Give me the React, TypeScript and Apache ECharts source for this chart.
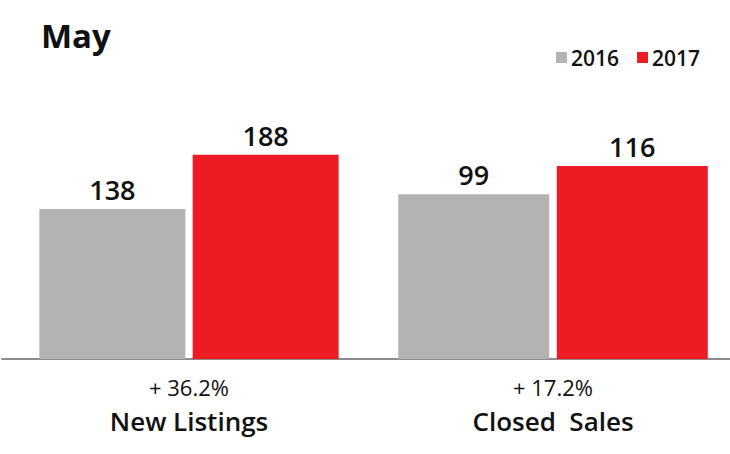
import React, { useEffect, useRef } from "react";
import * as echarts from "echarts";

const title = "May";
const years = ["2016", "2017"];
const categories = ["New Listings", "Closed  Sales"];
const values2016 = [138, 99];
const values2017 = [188, 116];
const changes = ["+ 36.2%", "+ 17.2%"];
const axisMax = [300, 196];

const GRAY = "#b3b3b3";
const RED = "#ed1c24";
const FONT = "'Open Sans', 'Noto Sans', sans-serif";

export default function App() {
  const ref = useRef<HTMLDivElement>(null);
  useEffect(() => {
    document.body.style.margin = "0";
    if (!ref.current) return;
    const chart = echarts.init(ref.current, null, { renderer: "svg" });
    const grids = [
      { left: 2, width: 374, top: 33, bottom: 95 },
      { left: 376, right: 0, top: 33, bottom: 95 },
    ];
    const barWidths = [146, 151];
    const series: any[] = [];
    categories.forEach((_, i) => {
      [values2016, values2017].forEach((vals, j) => {
        series.push({
          type: "bar",
          name: years[j],
          xAxisIndex: i,
          yAxisIndex: i,
          data: [vals[i]],
          barWidth: barWidths[i],
          barGap: "5%",
          itemStyle: { color: j === 0 ? GRAY : RED },
          label: {
            show: true,
            position: "top",
            distance: 6,
            color: "#111",
            fontFamily: FONT,
            fontSize: 27,
            fontWeight: 600,
          },
        });
      });
    });
    chart.setOption({
      animation: false,
      textStyle: { fontFamily: FONT },
      title: {
        text: title,
        left: 36,
        top: 14,
        textStyle: { fontFamily: FONT, fontSize: 33, fontWeight: 700, color: "#111" },
      },
      legend: {
        data: years,
        left: 551,
        top: 42,
        icon: "rect",
        itemWidth: 11,
        itemHeight: 11,
        itemGap: 18,
        textStyle: { fontFamily: FONT, fontSize: 21, fontWeight: 600, color: "#111", padding: [0, 0, 0, -1] },
      },
      grid: grids,
      xAxis: categories.map((c, i) => ({
        type: "category",
        gridIndex: i,
        data: [c],
        axisLine: { show: true, lineStyle: { color: "#8c8c8c", width: 2 } },
        axisTick: { show: false },
        axisLabel: {
          margin: 12,
          formatter: () => `{p|${changes[i]}}\n{n|${c}}`,
          rich: {
            p: { fontFamily: FONT, fontSize: 22, fontWeight: 500, color: "#111", lineHeight: 32 },
            n: { fontFamily: FONT, fontSize: 26, fontWeight: 600, color: "#111", lineHeight: 36 },
          },
        },
      })),
      yAxis: categories.map((_, i) => ({
        type: "value",
        gridIndex: i,
        min: 0,
        max: axisMax[i],
        show: false,
        splitLine: { show: false },
      })),
      series,
    });
    return () => chart.dispose();
  }, []);
  return <div ref={ref} style={{ width: 730, height: 454 }} />;
}
